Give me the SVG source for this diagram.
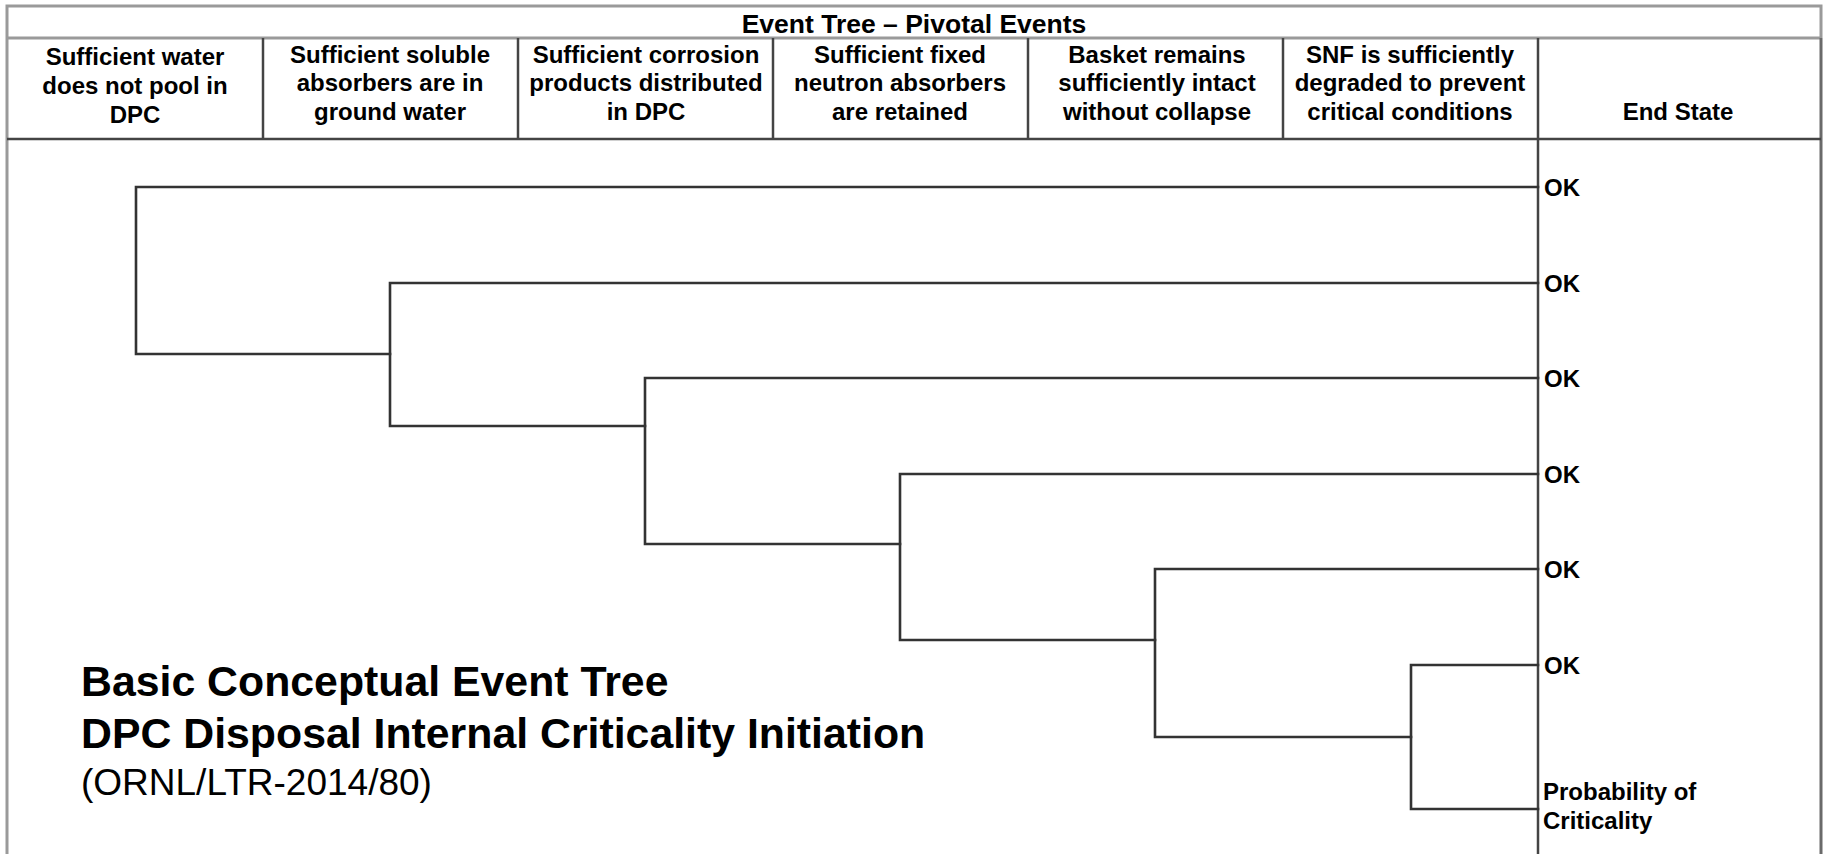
<svg xmlns="http://www.w3.org/2000/svg" width="1825" height="854" viewBox="0 0 1825 854">
<style>
.bg{fill:#ffffff}
.frame{stroke:#9a9a9a;stroke-width:3;fill:none}
.grid{stroke:#444444;stroke-width:2.5;fill:none}
.br{stroke:#333333;stroke-width:2.6;fill:none;stroke-linecap:square}
.hd{font-family:"Liberation Sans",Arial,sans-serif;font-weight:bold;font-size:24px;fill:#000;text-anchor:middle}
.ttl{font-family:"Liberation Sans",Arial,sans-serif;font-weight:bold;font-size:26.5px;fill:#000;text-anchor:middle}
.es{font-family:"Liberation Sans",Arial,sans-serif;font-weight:bold;font-size:24px;fill:#000}
.big{font-family:"Liberation Sans",Arial,sans-serif;font-weight:bold;font-size:42.8px;fill:#000}
.sub{font-family:"Liberation Sans",Arial,sans-serif;font-size:37px;fill:#000}
</style>
<rect class="bg" x="0" y="0" width="1825" height="854"/>

<g id="table">
  <path class="frame" d="M7,860 V6 H1821 V38"/>
  <line class="frame" x1="7" y1="38" x2="1821" y2="38"/>
  <line x1="1821" y1="38" x2="1821" y2="860" stroke="#6a6a6a" stroke-width="3"/>
  <line class="grid" x1="7" y1="139" x2="1821" y2="139"/>
  <line class="grid" x1="263" y1="38" x2="263" y2="139"/>
  <line class="grid" x1="518" y1="38" x2="518" y2="139"/>
  <line class="grid" x1="773" y1="38" x2="773" y2="139"/>
  <line class="grid" x1="1028" y1="38" x2="1028" y2="139"/>
  <line class="grid" x1="1283" y1="38" x2="1283" y2="139"/>
  <line class="grid" x1="1538" y1="38" x2="1538" y2="860"/>
  <text class="ttl" x="914" y="33">Event Tree – Pivotal Events</text>
</g>

<g id="h1"><text class="hd" x="135" y="65">Sufficient water</text><text class="hd" x="135" y="94">does not pool in</text><text class="hd" x="135" y="123">DPC</text></g>
<g id="h2"><text class="hd" x="390" y="63">Sufficient soluble</text><text class="hd" x="390" y="91">absorbers are in</text><text class="hd" x="390" y="120">ground water</text></g>
<g id="h3"><text class="hd" x="646" y="63">Sufficient corrosion</text><text class="hd" x="646" y="91">products distributed</text><text class="hd" x="646" y="120">in DPC</text></g>
<g id="h4"><text class="hd" x="900" y="63">Sufficient fixed</text><text class="hd" x="900" y="91">neutron absorbers</text><text class="hd" x="900" y="120">are retained</text></g>
<g id="h5"><text class="hd" x="1157" y="63">Basket remains</text><text class="hd" x="1157" y="91">sufficiently intact</text><text class="hd" x="1157" y="120">without collapse</text></g>
<g id="h6"><text class="hd" x="1410" y="63">SNF is sufficiently</text><text class="hd" x="1410" y="91">degraded to prevent</text><text class="hd" x="1410" y="120">critical conditions</text></g>
<g id="h7"><text class="hd" x="1678" y="120">End State</text></g>

<g id="connectors">
  <path class="br" d="M1538,187 H136 V354 H390"/>
  <path class="br" d="M1538,283 H390 V426 H645"/>
  <path class="br" d="M1538,378 H645 V544 H900"/>
  <path class="br" d="M1538,474 H900 V640 H1155"/>
  <path class="br" d="M1538,569 H1155 V737 H1411"/>
  <path class="br" d="M1538,665 H1411 V809 H1538"/>
</g>

<g id="end1"><text class="es" x="1544" y="196">OK</text></g>
<g id="end2"><text class="es" x="1544" y="292">OK</text></g>
<g id="end3"><text class="es" x="1544" y="387">OK</text></g>
<g id="end4"><text class="es" x="1544" y="483">OK</text></g>
<g id="end5"><text class="es" x="1544" y="578">OK</text></g>
<g id="end6"><text class="es" x="1544" y="674">OK</text></g>
<g id="end7"><text class="es" x="1543" y="800">Probability of</text><text class="es" x="1543" y="829">Criticality</text></g>

<g id="caption">
  <text class="big" x="81" y="696">Basic Conceptual Event Tree</text>
  <text class="big" x="81" y="748">DPC Disposal Internal Criticality Initiation</text>
  <text class="sub" x="81" y="795">(ORNL/LTR-2014/80)</text>
</g>
</svg>
